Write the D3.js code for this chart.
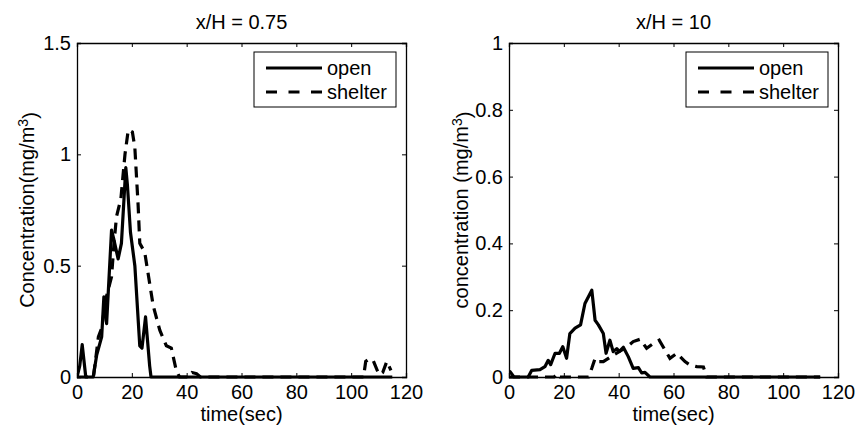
<!DOCTYPE html>
<html>
<head>
<meta charset="utf-8">
<script src="https://cdn.jsdelivr.net/npm/d3@7"></script>
<style>
  html, body { margin: 0; padding: 0; background: #fff; }
  svg text { font-family: "Liberation Sans", Arial, Helvetica, sans-serif; fill: #000; }
</style>
</head>
<body>
<svg id="chart" width="856" height="427"></svg>
<script>
// ---------- DATA ----------
const xTicks = [0, 20, 40, 60, 80, 100, 120];
const yTicksLeft = [0, 0.5, 1, 1.5];
const yTicksRight = [0, 0.2, 0.4, 0.6, 0.8, 1];
const seriesNames = ["open", "shelter"];
const titles = ["x/H = 0.75", "x/H = 10"];

// Left panel (x/H = 0.75)
const leftOpenT = [0, 1, 1.9, 3.2, 5.9, 7.2, 9, 9.8, 10.8, 12.6, 13.4, 15, 16.2, 17.8, 18.4, 19.5, 21.1, 22.9, 23.7, 25, 26.5, 27, 60, 115];
const leftOpenV = [0, 0.05, 0.145, 0, 0, 0.1, 0.18, 0.36, 0.24, 0.66, 0.62, 0.53, 0.6, 0.94, 0.86, 0.65, 0.5, 0.14, 0.13, 0.27, 0.05, 0, 0, 0];
const leftShelterT = [0, 6, 7.8, 9, 10.5, 12.6, 13.5, 14.4, 16, 17.5, 18.7, 20.2, 21.1, 22.3, 22.9, 24.7, 27.8, 30.2, 32.6, 34.4, 36.2, 37.4, 41, 42, 43.6, 45, 104.5, 105.3, 106.5, 108, 109.5, 110.5, 111.5, 113, 114.5];
const leftShelterV = [0, 0, 0.18, 0.22, 0.35, 0.45, 0.6, 0.72, 0.8, 1.0, 1.11, 1.1, 1.03, 0.77, 0.6, 0.56, 0.32, 0.21, 0.14, 0.13, 0.03, 0, 0, 0.02, 0.015, 0, 0, 0.07, 0.08, 0.075, 0.03, 0.01, 0.02, 0.07, 0.03];

// Right panel (x/H = 10)
const rightOpenT = [0, 0.4, 1.8, 7, 8.3, 11.3, 13.1, 14.3, 15.2, 16.8, 18.4, 19.6, 21, 22.2, 24.1, 26.1, 27.7, 30.2, 31.4, 32.6, 34.4, 35.4, 36.8, 38, 39.3, 40.2, 41.7, 43.5, 45.3, 47.2, 48.4, 49.6, 51.4, 80, 113.5];
const rightOpenV = [0.01, 0.016, 0, 0, 0.02, 0.022, 0.031, 0.05, 0.037, 0.071, 0.071, 0.091, 0.056, 0.13, 0.146, 0.156, 0.22, 0.26, 0.17, 0.156, 0.13, 0.071, 0.11, 0.076, 0.085, 0.076, 0.089, 0.061, 0.026, 0.028, 0.012, 0.014, 0, 0, 0];
const rightShelterT = [0, 16.5, 17.6, 18.6, 29, 30.2, 31.4, 32.6, 34.4, 37, 40, 42.9, 45.3, 47.8, 50.2, 52.6, 54.8, 56.9, 58.7, 61.2, 64.2, 66, 68.5, 70.9, 72.1, 90, 113.5];
const rightShelterV = [0, 0, 0.01, 0, 0, 0.026, 0.056, 0.046, 0.046, 0.06, 0.075, 0.089, 0.106, 0.113, 0.086, 0.1, 0.11, 0.081, 0.056, 0.071, 0.046, 0.036, 0.031, 0.03, 0, 0, 0];

// ---------- DRAW ----------
const svg = d3.select("#chart");
const FONT = 20;
const DASH = "11,7";

const panels = [
  { x0: 77, x1: 406, yMax: 1.5, yTicks: yTicksLeft, yFmt: d => String(d),
    title: titles[0], ylabel: "Concentration(mg/m", ylx: 34,
    open: leftOpenT.map((t, i) => [t, leftOpenV[i]]),
    shelter: leftShelterT.map((t, i) => [t, leftShelterV[i]]) },
  { x0: 509, x1: 838, yMax: 1, yTicks: yTicksRight, yFmt: d => String(d),
    title: titles[1], ylabel: "concentration (mg/m", ylx: 468,
    open: rightOpenT.map((t, i) => [t, rightOpenV[i]]),
    shelter: rightShelterT.map((t, i) => [t, rightShelterV[i]]) }
];
const yTop = 43, yBot = 377;

panels.forEach(p => {
  const x = d3.scaleLinear().domain([0, 120]).range([p.x0, p.x1]);
  const y = d3.scaleLinear().domain([0, p.yMax]).range([yBot, yTop]);
  const g = svg.append("g");

  const cid = "clip" + p.x0;
  svg.append("clipPath").attr("id", cid).append("rect")
    .attr("x", p.x0).attr("y", yTop - 2).attr("width", p.x1 - p.x0).attr("height", yBot - yTop + 4);

  const line = d3.line().x(d => x(d[0])).y(d => y(d[1]));
  g.append("path").datum(p.shelter).attr("d", line)
    .attr("fill", "none").attr("stroke", "#000").attr("stroke-width", 3.2)
    .attr("stroke-dasharray", DASH).attr("clip-path", `url(#${cid})`);
  g.append("path").datum(p.open).attr("d", line)
    .attr("fill", "none").attr("stroke", "#000").attr("stroke-width", 3.2)
    .attr("stroke-linejoin", "round").attr("clip-path", `url(#${cid})`);

  const tl = 4;
  const ax = g.append("g").attr("transform", `translate(0,${yBot})`)
    .call(d3.axisBottom(x).tickValues(xTicks).tickSize(-tl).tickPadding(8).tickFormat(d3.format("d")));
  const axT = g.append("g").attr("transform", `translate(0,${yTop})`)
    .call(d3.axisTop(x).tickValues(xTicks).tickSize(-tl).tickFormat(""));
  const ayL = g.append("g").attr("transform", `translate(${p.x0},0)`)
    .call(d3.axisLeft(y).tickValues(p.yTicks).tickSize(-tl).tickPadding(8).tickFormat(p.yFmt));
  const ayR = g.append("g").attr("transform", `translate(${p.x1},0)`)
    .call(d3.axisRight(y).tickValues(p.yTicks).tickSize(-tl).tickFormat(""));
  [ax, axT, ayL, ayR].forEach(a => {
    a.select(".domain").attr("stroke", "#000").attr("stroke-width", 1.3);
    a.selectAll(".tick line").attr("stroke", "#000").attr("stroke-width", 1);
    a.selectAll("text").style("font-size", FONT + "px").attr("fill", "#000")
      .style("font-family", '"Liberation Sans", Arial, sans-serif');
  });
  ax.selectAll("text").attr("y", 8).attr("dy", "0.71em");
  ayL.selectAll("text").attr("x", -6);

  g.append("text").attr("x", (p.x0 + p.x1) / 2).attr("y", 29)
    .attr("text-anchor", "middle").style("font-size", FONT + "px").text(p.title);

  g.append("text").attr("x", (p.x0 + p.x1) / 2).attr("y", 421)
    .attr("text-anchor", "middle").style("font-size", FONT + "px").text("time(sec)");

  const yl = g.append("text").attr("transform", `translate(${p.ylx},${(yTop + yBot) / 2}) rotate(-90)`)
    .attr("text-anchor", "middle").style("font-size", FONT + "px");
  yl.append("tspan").text(p.ylabel);
  yl.append("tspan").attr("dy", "-0.45em").style("font-size", (FONT * 0.7) + "px").text("3");
  yl.append("tspan").attr("dy", "0.45em").text(")");

  const lx1 = p.x1 - 10, lx0 = lx1 - 142, ly0 = yTop + 9, ly1 = ly0 + 55;
  const lg = g.append("g");
  lg.append("rect").attr("x", lx0).attr("y", ly0).attr("width", lx1 - lx0).attr("height", ly1 - ly0)
    .attr("fill", "#fff").attr("stroke", "#000").attr("stroke-width", 1);
  const entries = [{ name: seriesNames[0], dash: null, yy: ly0 + 16 }, { name: seriesNames[1], dash: "11,11.5", yy: ly0 + 40 }];
  entries.forEach(e => {
    lg.append("line").attr("x1", lx0 + 12).attr("x2", lx0 + 68).attr("y1", e.yy).attr("y2", e.yy)
      .attr("stroke", "#000").attr("stroke-width", 3.2).attr("stroke-dasharray", e.dash);
    lg.append("text").attr("x", lx0 + 73).attr("y", e.yy).attr("dy", "0.35em")
      .style("font-size", FONT + "px").text(e.name);
  });
});
</script>
</body>
</html>
